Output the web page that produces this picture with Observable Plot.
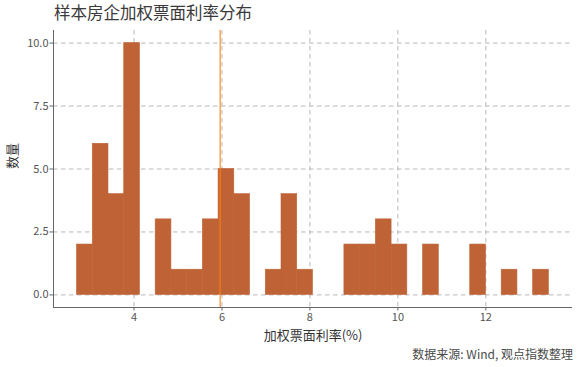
<!DOCTYPE html>
<html>
<head>
<meta charset="utf-8">
<script src="https://cdn.jsdelivr.net/npm/d3@7"></script>
<script src="https://cdn.jsdelivr.net/npm/@observablehq/plot@0.6"></script>
<style>
  body { margin: 0; background: #fff; font-family: "Noto Sans CJK SC", "Noto Sans", sans-serif; }
  #wrap { width: 580px; height: 367px; position: relative; }
  #title { height: 24px; line-height: 24px; font-size: 16.5px; color: #3a3a3a; padding-left: 54px; white-space: nowrap; }
  #caption { height: 16px; line-height: 16px; font-size: 12px; color: #4a4a4a; text-align: right; padding-right: 7px; white-space: nowrap; }
  svg { display: block; }
</style>
</head>
<body>
<div id="wrap">
  <div id="title">样本房企加权票面利率分布</div>
  <div id="chart"></div>
  <div id="caption">数据来源: Wind, 观点指数整理</div>
</div>
<script>
// Histogram bin edges (加权票面利率, %) and counts per bin
const binEdges = [2.705, 3.063, 3.420, 3.778, 4.135, 4.493, 4.851, 5.208, 5.566, 5.923,
  6.281, 6.639, 6.996, 7.354, 7.711, 8.069, 8.427, 8.784, 9.142, 9.499,
  9.857, 10.215, 10.572, 10.930, 11.287, 11.645, 12.003, 12.360, 12.718, 13.075, 13.433];
const counts = [2, 6, 4, 10, 0, 3, 1, 1, 3, 5,
  4, 0, 1, 4, 1, 0, 0, 2, 2, 3,
  2, 0, 2, 0, 0, 2, 0, 1, 0, 1];
const meanRate = [5.96];
const xTicks = [4, 6, 8, 10, 12];
const yTicks = [0, 2.5, 5, 7.5, 10];
const xDomain = [2.17, 13.97];
const yDomain = [-0.5, 10.5];
const xLabel = "加权票面利率(%)";
const yLabel = "数量";

const bins = counts.map((c, i) => ({x1: binEdges[i], x2: binEdges[i + 1], count: c})).filter(d => d.count > 0);

const gridStyle = {stroke: "#b8b8b8", strokeWidth: 1, strokeDasharray: "4.5,3.5"};

const chart = Plot.plot({
  width: 580,
  height: 322,
  marginLeft: 53,
  marginRight: 8,
  marginTop: 6,
  marginBottom: 39,
  style: {fontFamily: "'Noto Sans CJK SC', 'Noto Sans', sans-serif", color: "#555", background: "#fff"},
  x: {domain: xDomain},
  y: {domain: yDomain},
  marks: [
    Plot.ruleX(xTicks, gridStyle),
    Plot.ruleY(yTicks, gridStyle),
    Plot.rectY(bins, {x1: "x1", x2: "x2", y1: 0, y2: "count", fill: "#bf6337", stroke: "#bf6337", strokeWidth: 0.6}),
    Plot.ruleX(meanRate, {stroke: "#ff7f0e", strokeOpacity: 0.7, strokeWidth: 1.5}),
    Plot.ruleX([xDomain[0]], {stroke: "#666", strokeWidth: 1}),
    Plot.ruleY([yDomain[0]], {stroke: "#666", strokeWidth: 1}),
    Plot.axisX({ticks: xTicks, tickFormat: d => String(d), tickSize: 3.5, tickPadding: 2, fontSize: 11, label: null, stroke: "#666"}),
    Plot.axisY({ticks: yTicks, tickFormat: d3.format(".1f"), tickSize: 3.5, tickPadding: 1.5, fontSize: 11, label: null, stroke: "#666"}),
    Plot.text([xLabel], {frameAnchor: "bottom", dy: 28, fontSize: 13, fill: "#333", lineAnchor: "middle"}),
    Plot.text([yLabel], {frameAnchor: "left", dx: -41, rotate: -90, fontSize: 13, fill: "#333", lineAnchor: "middle"})
  ]
});
document.getElementById("chart").appendChild(chart);
</script>
</body>
</html>
